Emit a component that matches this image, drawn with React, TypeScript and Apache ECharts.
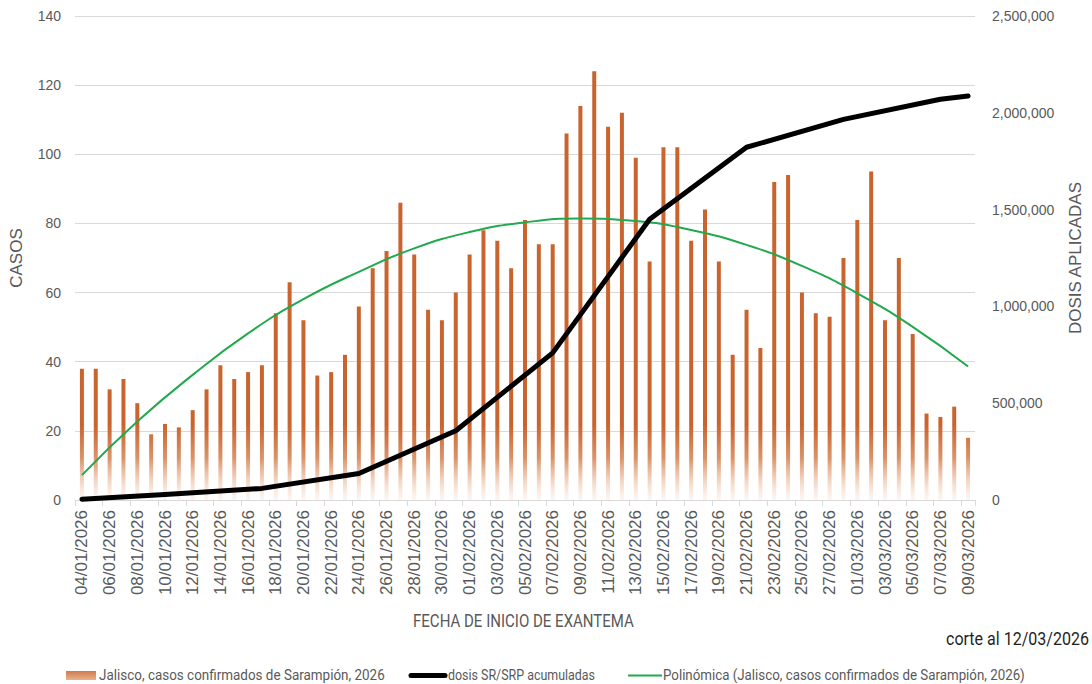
import React, { useEffect, useRef } from "react";
import * as echarts from "echarts";

const fechas = [
  "04/01/2026","05/01/2026","06/01/2026","07/01/2026","08/01/2026","09/01/2026","10/01/2026",
  "11/01/2026","12/01/2026","13/01/2026","14/01/2026","15/01/2026","16/01/2026","17/01/2026",
  "18/01/2026","19/01/2026","20/01/2026","21/01/2026","22/01/2026","23/01/2026","24/01/2026",
  "25/01/2026","26/01/2026","27/01/2026","28/01/2026","29/01/2026","30/01/2026","31/01/2026",
  "01/02/2026","02/02/2026","03/02/2026","04/02/2026","05/02/2026","06/02/2026","07/02/2026",
  "08/02/2026","09/02/2026","10/02/2026","11/02/2026","12/02/2026","13/02/2026","14/02/2026",
  "15/02/2026","16/02/2026","17/02/2026","18/02/2026","19/02/2026","20/02/2026","21/02/2026",
  "22/02/2026","23/02/2026","24/02/2026","25/02/2026","26/02/2026","27/02/2026","28/02/2026",
  "01/03/2026","02/03/2026","03/03/2026","04/03/2026","05/03/2026","06/03/2026","07/03/2026",
  "08/03/2026","09/03/2026",
];

const casos = [
  38, 38, 32, 35, 28, 19, 22, 21, 26, 32, 39, 35, 37, 39, 54, 63, 52, 36, 37, 42,
  56, 67, 72, 86, 71, 55, 52, 60, 71, 78, 75, 67, 81, 74, 74, 106, 114, 124, 108, 112,
  99, 69, 102, 102, 75, 84, 69, 42, 55, 44, 92, 94, 60, 54, 53, 70, 81, 95, 52, 70,
  48, 25, 24, 27, 18,
];

const dosisFechas = ["04/01/2026","10/01/2026","17/01/2026","24/01/2026","31/01/2026","07/02/2026","14/02/2026","21/02/2026","28/02/2026","07/03/2026","09/03/2026"];
const dosisValores = [4000, 29000, 60000, 137000, 358000, 760000, 1450000, 1822000, 1966000, 2070000, 2087000];

const tendenciaFechas = ["04/01/2026","08/01/2026","12/01/2026","16/01/2026","20/01/2026","24/01/2026","28/01/2026","01/02/2026","05/02/2026","09/02/2026","13/02/2026","17/02/2026","21/02/2026","25/02/2026","01/03/2026","05/03/2026","09/03/2026"];
const tendenciaValores = [7.2, 22.7, 36.2, 48.2, 58.1, 66.0, 72.8, 77.5, 80.3, 81.4, 80.7, 78.1, 73.8, 67.7, 59.8, 50.1, 38.6];

const yIzqTicks = { min: 0, max: 140, interval: 20 };
const yDerTicks = { min: 0, max: 2500000, interval: 500000 };

const nombreBarras = "Jalisco, casos confirmados de Sarampión, 2026";
const nombreDosis = "dosis SR/SRP acumuladas";
const nombreTendencia = "Polinómica (Jalisco, casos confirmados de Sarampión, 2026)";
const tituloX = "FECHA DE INICIO DE EXANTEMA";
const nota = "corte al 12/03/2026";

const GRAY = "#595959";
const NARROW = "Roboto, sans-serif";
const ARIAL = "'Liberation Sans', Arial, sans-serif";

function sparse(dates: string[], vals: number[]) {
  return fechas.map((f) => {
    const i = dates.indexOf(f);
    return i >= 0 ? vals[i] : null;
  });
}

function fit(text: string, font: string, target: number) {
  const ctx = document.createElement("canvas").getContext("2d");
  if (!ctx) return 1;
  ctx.font = font;
  const w = ctx.measureText(text).width;
  return w > 0 ? target / w : 1;
}

function narrowText(text: string, x: number, y: number, size: number, width: number, fill: string) {
  const font = `${size}px ${NARROW}`;
  return {
    type: "text",
    x,
    y,
    scaleX: fit(text, font, width),
    style: { text, font, fill, verticalAlign: "middle", align: "left" },
  };
}

export default function App() {
  const ref = useRef<HTMLDivElement>(null);
  useEffect(() => {
    if (!ref.current) return;
    const chart = echarts.init(ref.current, null, { renderer: "svg" });
    const barGrad = new echarts.graphic.LinearGradient(0, 425, 0, 500, [
      { offset: 0, color: "#C9642F" },
      { offset: 0.45, color: "#DC946A" },
      { offset: 1, color: "rgba(250,228,214,0.35)" },
    ], true);
    const legendGrad = new echarts.graphic.LinearGradient(0, 0, 0, 1, [
      { offset: 0, color: "#D07A48" },
      { offset: 1, color: "#E8B190" },
    ]);
    chart.setOption({
      animation: false,
      backgroundColor: "#fff",
      grid: { left: 69, right: 114, top: 16, bottom: 184, containLabel: false },
      xAxis: {
        type: "category",
        data: fechas,
        boundaryGap: true,
        axisLine: { lineStyle: { color: "#D9D9D9", width: 1 } },
        axisTick: { show: true, interval: 1, length: 6, lineStyle: { color: "#D9D9D9" } },
        axisLabel: { interval: 1, rotate: 90, fontSize: 17, color: GRAY, fontFamily: ARIAL, margin: 10 },
      },
      yAxis: [
        {
          type: "value",
          ...yIzqTicks,
          name: "CASOS",
          nameLocation: "middle",
          nameRotate: 90,
          nameGap: 50,
          nameTextStyle: { fontSize: 17, color: GRAY, fontFamily: ARIAL },
          axisLine: { show: false },
          axisTick: { show: false },
          axisLabel: { fontSize: 14, color: GRAY, fontFamily: ARIAL, margin: 14 },
          splitLine: { lineStyle: { color: "#D9D9D9", width: 1 } },
        },
        {
          type: "value",
          ...yDerTicks,
          name: "DOSIS APLICADAS",
          nameLocation: "middle",
          nameRotate: 90,
          nameGap: 92,
          nameTextStyle: { fontSize: 17, color: GRAY, fontFamily: ARIAL },
          axisLine: { show: false },
          axisTick: { show: false },
          axisLabel: {
            fontSize: 14, color: GRAY, fontFamily: ARIAL, margin: 17,
            formatter: (v: number) => v.toLocaleString("en-US"),
          },
          splitLine: { show: false },
        },
      ],
      series: [
        {
          name: nombreBarras,
          type: "bar",
          data: casos,
          barWidth: 4,
          itemStyle: { color: barGrad },
          z: 2,
        },
        {
          name: nombreTendencia,
          type: "line",
          data: sparse(tendenciaFechas, tendenciaValores),
          connectNulls: true,
          smooth: true,
          symbol: "none",
          lineStyle: { color: "#22A84D", width: 2 },
          z: 3,
        },
        {
          name: nombreDosis,
          type: "line",
          yAxisIndex: 1,
          data: sparse(dosisFechas, dosisValores),
          connectNulls: true,
          symbol: "none",
          lineStyle: { color: "#000", width: 5, cap: "round", join: "round" },
          z: 4,
        },
      ],
      graphic: [
        narrowText(tituloX, 413, 621, 18, 221, GRAY),
        narrowText(nota, 946, 639, 19, 143, "#1f1f1f"),
        { type: "rect", shape: { x: 66, y: 671, width: 30, height: 9 }, style: { fill: legendGrad } },
        narrowText(nombreBarras, 99, 675, 15, 286, GRAY),
        { type: "line", shape: { x1: 411, y1: 675.5, x2: 445, y2: 675.5 }, style: { stroke: "#000", lineWidth: 5, lineCap: "round" } },
        narrowText(nombreDosis, 448, 675, 15, 147, GRAY),
        { type: "line", shape: { x1: 628, y1: 675.5, x2: 662, y2: 675.5 }, style: { stroke: "#22A84D", lineWidth: 2 } },
        narrowText(nombreTendencia, 663, 675, 15, 362, GRAY),
      ],
    });
    return () => chart.dispose();
  }, []);
  return (
    <div
      ref={ref}
      style={{ position: "fixed", left: 0, top: 0, width: 1092, height: 684, background: "#fff" }}
    />
  );
}
